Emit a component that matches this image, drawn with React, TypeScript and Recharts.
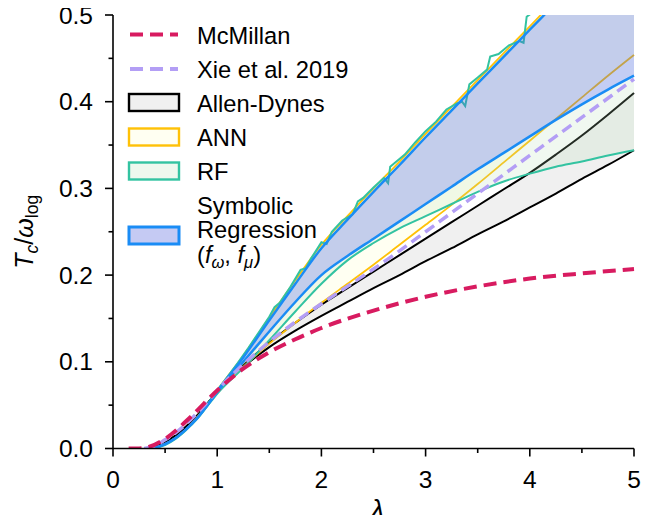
import React from 'react';
import { ComposedChart, Area, Line, XAxis, YAxis } from 'recharts';

// lambda grid shared by the smooth bands
const LAM = [0.3, 0.4, 0.5, 0.6, 0.7, 0.8, 0.9, 1.0, 1.25, 1.5, 1.75, 2, 2.25, 2.5, 2.75, 3, 3.25, 3.5, 3.75, 4, 4.25, 4.5, 4.75, 5];

const MCM_LAM = [0.15, 0.25, 0.35, 0.5, 0.75, 1, 1.25, 1.5, 1.75, 2, 2.5, 3, 3.5, 4, 4.5, 5];
const MCMILLAN = [0, 0.0001, 0.002, 0.011, 0.037, 0.067, 0.092, 0.111, 0.126, 0.139, 0.159, 0.175, 0.187, 0.196, 0.202, 0.207];

const XIE = [0, 0.003, 0.01, 0.018, 0.028, 0.04, 0.053, 0.067, 0.097, 0.123, 0.146, 0.167, 0.187, 0.207, 0.228, 0.25, 0.272, 0.294, 0.316, 0.338, 0.36, 0.382, 0.404, 0.426];

const AD_LO = [0, 0.002, 0.007, 0.015, 0.025, 0.037, 0.051, 0.066, 0.094, 0.117, 0.136, 0.153, 0.169, 0.185, 0.2, 0.216, 0.231, 0.247, 0.262, 0.278, 0.294, 0.311, 0.327, 0.344];
const AD_HI = [0, 0.002, 0.007, 0.015, 0.025, 0.037, 0.051, 0.066, 0.096, 0.122, 0.145, 0.166, 0.185, 0.204, 0.223, 0.242, 0.261, 0.28, 0.299, 0.318, 0.339, 0.361, 0.385, 0.41];

const ANN_LO = [0, 0.001, 0.005, 0.012, 0.022, 0.034, 0.049, 0.065, 0.094, 0.121, 0.145, 0.168, 0.19, 0.212, 0.235, 0.258, 0.281, 0.305, 0.33, 0.355, 0.38, 0.405, 0.43, 0.454];
const ANN_HI = [0, 0.001, 0.005, 0.012, 0.022, 0.035, 0.05, 0.067, 0.107, 0.151, 0.194, 0.235, 0.268, 0.3, 0.331, 0.363, 0.394, 0.425, 0.456, 0.487, 0.518, 0.549, 0.58, 0.611];

const RF_LO = [0, 0.001, 0.004, 0.011, 0.021, 0.033, 0.048, 0.063, 0.093, 0.125, 0.158, 0.19, 0.217, 0.237, 0.254, 0.268, 0.282, 0.296, 0.308, 0.317, 0.325, 0.331, 0.338, 0.344];

// random forest upper edge is jagged, so it gets its own grid
const RF_UP_LAM = [0.9, 1.0, 1.1, 1.2, 1.3, 1.4, 1.5, 1.55, 1.6, 1.7, 1.8, 1.85, 1.9, 2.0, 2.05, 2.1, 2.2, 2.3, 2.35, 2.4, 2.5, 2.6, 2.64, 2.66, 2.7, 2.8, 2.9, 3.0, 3.1, 3.2, 3.3, 3.35, 3.38, 3.42, 3.5, 3.59, 3.62, 3.7, 3.8, 3.9, 3.94, 3.97, 4.05, 4.15];
const RF_UP = [0.05, 0.067, 0.083, 0.099, 0.116, 0.134, 0.152, 0.163, 0.168, 0.186, 0.206, 0.208, 0.219, 0.238, 0.236, 0.25, 0.263, 0.27, 0.285, 0.289, 0.301, 0.312, 0.306, 0.325, 0.329, 0.339, 0.353, 0.366, 0.377, 0.391, 0.398, 0.4, 0.395, 0.42, 0.428, 0.437, 0.452, 0.455, 0.465, 0.47, 0.468, 0.498, 0.505, 0.52];

const SR_LO = [0, 0.001, 0.005, 0.012, 0.022, 0.034, 0.049, 0.065, 0.1, 0.135, 0.169, 0.2, 0.222, 0.242, 0.262, 0.282, 0.302, 0.322, 0.341, 0.36, 0.379, 0.397, 0.414, 0.43];
const SR_HI = [0, 0.001, 0.005, 0.012, 0.022, 0.034, 0.049, 0.066, 0.105, 0.148, 0.19, 0.231, 0.264, 0.296, 0.327, 0.359, 0.39, 0.421, 0.452, 0.483, 0.514, 0.545, 0.576, 0.607];

const X_TICKS = [0, 0.5, 1, 1.5, 2, 2.5, 3, 3.5, 4, 4.5, 5];
const Y_TICKS = [0, 0.05, 0.1, 0.15, 0.2, 0.25, 0.3, 0.35, 0.4, 0.45, 0.5];

const FONT = '"Liberation Sans", Arial, sans-serif';
const C_MCM = '#d81b60';
const C_XIE = '#b39ef5';
const C_ANN = '#ffc107';
const C_RF = '#33c3a1';
const C_SR = '#1a8cf5';

const line = (xs: number[], ys: number[]) => xs.map((x, i) => ({ x, y: ys[i] }));
const band = (lo: number[], hi: number[]) => LAM.map((x, i) => ({ x, r: [lo[i], hi[i]] }));

const isMajor = (v: number, step: number) => Math.abs(v / step - Math.round(v / step)) < 1e-6;

const XTick = (props: any) => {
  const { x, y, payload } = props;
  const v = payload.value;
  const major = isMajor(v, 1);
  const axisY = y - 22;
  return (
    <g>
      <line x1={x} x2={x} y1={axisY} y2={axisY + (major ? 8 : 4.5)} stroke="#000" strokeWidth={1.6} />
      {major && (
        <text x={x} y={y} dy="0.71em" textAnchor="middle" fontSize={24.5} fontFamily={FONT} fill="#000">
          {v}
        </text>
      )}
    </g>
  );
};

const YTick = (props: any) => {
  const { x, y, payload } = props;
  const v = payload.value;
  const major = isMajor(v, 0.1);
  const axisX = x + 20;
  return (
    <g>
      <line x1={axisX} x2={axisX - (major ? 8 : 4.5)} y1={y} y2={y} stroke="#000" strokeWidth={1.6} />
      {major && (
        <text x={x} y={y} dy="0.355em" textAnchor="end" fontSize={24.5} fontFamily={FONT} fill="#000">
          {v.toFixed(1)}
        </text>
      )}
    </g>
  );
};

const YLabel = ({ viewBox }: any) => {
  const cx = viewBox.x + 32.5;
  const cy = viewBox.y + viewBox.height / 2;
  return (
    <text x={cx} y={cy} transform={`rotate(-90, ${cx}, ${cy})`} textAnchor="middle" fontSize={25} fontFamily={FONT} fill="#000">
      <tspan fontStyle="italic">T</tspan>
      <tspan fontStyle="italic" fontSize={17.5} dy={5}>c</tspan>
      <tspan dy={-5}>/</tspan>
      <tspan fontStyle="italic">ω</tspan>
      <tspan fontSize={17.5} dy={5}>log</tspan>
    </text>
  );
};

const XLabel = ({ viewBox }: any) => (
  <text x={viewBox.x + viewBox.width / 2 + 4} y={viewBox.y + 70} textAnchor="middle" fontSize={28} fontStyle="italic" fontFamily={FONT} fill="#000">
    λ
  </text>
);

function ChartLegend() {
  const tx = 189;
  const txt = { fontSize: 23.7, fontFamily: FONT, fill: '#000' };
  const patch = (y: number, fill: string, stroke: string, w = 2.4) => (
    <rect x={121} y={y} width={50} height={17} fill={fill} stroke={stroke} strokeWidth={w} />
  );
  return (
    <svg width={646} height={300} style={{ position: 'absolute', left: 8, top: 8, pointerEvents: 'none' }}>
      <line x1={122} x2={170} y1={26.5} y2={26.5} stroke={C_MCM} strokeWidth={4} strokeDasharray="13 7" />
      <text x={tx} y={35.5} {...txt}>McMillan</text>
      <line x1={122} x2={170} y1={61} y2={61} stroke={C_XIE} strokeWidth={4} strokeDasharray="13 7" />
      <text x={tx} y={69.5} {...txt}>Xie et al. 2019</text>
      {patch(86, '#f0f0f0', '#000')}
      <text x={tx} y={103.5} {...txt}>Allen-Dynes</text>
      {patch(120.5, '#fffff2', C_ANN)}
      <text x={tx} y={137.5} {...txt}>ANN</text>
      {patch(154.5, '#eef8ee', C_RF)}
      <text x={tx} y={171.5} {...txt}>RF</text>
      {patch(219, '#c5caf3', C_SR, 3)}
      <text x={tx} y={205.5} {...txt}>Symbolic</text>
      <text x={tx} y={230} {...txt}>Regression</text>
      <text x={tx} y={254.5} {...txt}>
        <tspan>(</tspan>
        <tspan fontStyle="italic">f</tspan>
        <tspan fontStyle="italic" fontSize={16.5} dy={5}>ω</tspan>
        <tspan dy={-5}>, </tspan>
        <tspan fontStyle="italic">f</tspan>
        <tspan fontStyle="italic" fontSize={16.5} dy={5}>μ</tspan>
        <tspan dy={-5}>)</tspan>
      </text>
    </svg>
  );
}

export default function App() {
  const axisLine = { stroke: '#000', strokeWidth: 1.6 };
  return (
    <div style={{ position: 'relative', width: 654, height: 523, margin: -8 }}>
      <ComposedChart width={654} height={523} margin={{ top: 15, right: 20, bottom: 0, left: 0 }}>
        <XAxis
          dataKey="x"
          type="number"
          domain={[0, 5]}
          ticks={X_TICKS}
          interval={0}
          height={74.5}
          tickSize={8}
          tickMargin={14}
          tickLine={false}
          axisLine={axisLine}
          tick={<XTick />}
          label={<XLabel />}
        />
        <XAxis xAxisId="top" orientation="top" type="number" domain={[0, 5]} height={0} tick={false} tickLine={false} axisLine={axisLine} />
        <YAxis
          type="number"
          domain={[0, 0.5]}
          allowDataOverflow
          ticks={Y_TICKS}
          interval={0}
          width={113}
          tickSize={8}
          tickMargin={12}
          tickLine={false}
          axisLine={axisLine}
          tick={<YTick />}
          label={<YLabel />}
        />
        <YAxis yAxisId="right" orientation="right" type="number" domain={[0, 0.5]} width={0} tick={false} tickLine={false} axisLine={axisLine} />

        <Area data={band(AD_LO, AD_HI)} dataKey="r" type="monotone" fill="#f0f0f0" fillOpacity={1} stroke="#000" strokeWidth={2} dot={false} activeDot={false} isAnimationActive={false} zIndex={101} />
        <Area data={band(ANN_LO, ANN_HI)} dataKey="r" type="monotone" fill="#ffff00" fillOpacity={0.05} stroke={C_ANN} strokeWidth={1.8} dot={false} activeDot={false} isAnimationActive={false} zIndex={102} />
        <Area data={band(RF_LO, SR_LO)} dataKey="r" type="monotone" fill="#b5dcb5" fillOpacity={0.2} stroke="none" dot={false} activeDot={false} isAnimationActive={false} zIndex={103} />
        <Line data={line(LAM, RF_LO)} dataKey="y" type="monotone" stroke={C_RF} strokeWidth={2} dot={false} activeDot={false} isAnimationActive={false} zIndex={104} />
        <Line data={line(RF_UP_LAM, RF_UP)} dataKey="y" type="linear" stroke={C_RF} strokeWidth={2} dot={false} activeDot={false} isAnimationActive={false} zIndex={104} />
        <Area data={band(SR_LO, SR_HI)} dataKey="r" type="monotone" fill="#4a66dd" fillOpacity={0.33} stroke={C_SR} strokeWidth={2.5} dot={false} activeDot={false} isAnimationActive={false} zIndex={105} />
        <Line data={line(LAM, XIE)} dataKey="y" type="monotone" stroke={C_XIE} strokeWidth={3.5} strokeDasharray="11 6" dot={false} activeDot={false} isAnimationActive={false} zIndex={106} />
        <Line data={line(MCM_LAM, MCMILLAN)} dataKey="y" type="monotone" stroke={C_MCM} strokeWidth={4} strokeDasharray="13 7" dot={false} activeDot={false} isAnimationActive={false} zIndex={107} />
      </ComposedChart>
      <ChartLegend />
    </div>
  );
}
